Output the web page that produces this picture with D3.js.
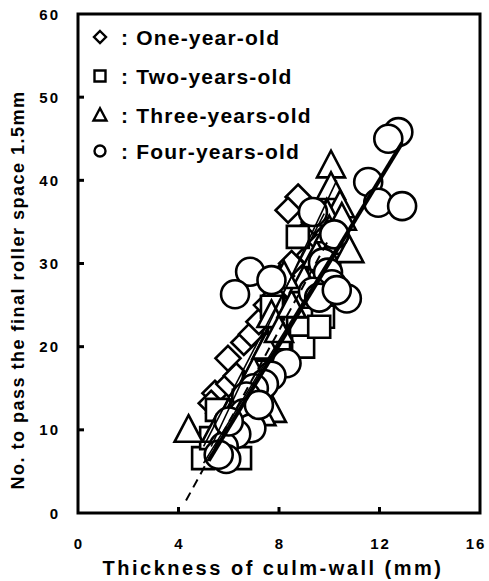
<!DOCTYPE html>
<html>
<head>
<meta charset="utf-8">
<script src="https://cdn.jsdelivr.net/npm/d3@7"></script>
<style>
  body { margin: 0; background: #fff; }
  text { font-family: "Liberation Sans", Arial, sans-serif; font-weight: bold; fill: #000; }
</style>
</head>
<body>
<div id="chart"></div>
<script>
// Width and height of the SVG
const width = 489;
const height = 581;

// data (x: culm-wall thickness mm, y: number of passes)
const oneYear = [
  [8.76, 38.0], [8.36, 36.4], [5.97, 18.6], [5.45, 14.4], [5.3, 13.2], [5.6, 12.0],
  [6.0, 15.5], [6.3, 16.5], [6.6, 20.5], [6.9, 21.5], [7.2, 23.0], [7.5, 25.0],
  [7.8, 26.0], [8.1, 28.5], [8.5, 30.0], [9.0, 33.5], [9.4, 35.0], [5.8, 10.5],
  [6.2, 12.5], [9.2, 31.0]
];
const twoYears = [
  [8.75, 33.2], [7.76, 24.6], [8.76, 22.2], [8.3, 19.3], [8.96, 20.0], [9.75, 23.6],
  [9.6, 22.4], [7.72, 24.8], [4.98, 6.6], [6.45, 6.6], [5.53, 12.4], [5.3, 9.0],
  [5.8, 8.0], [6.2, 11.0], [6.6, 13.5], [7.0, 15.5], [7.4, 17.0], [8.0, 21.0],
  [9.0, 26.0], [9.6, 28.0], [10.0, 30.0], [10.3, 32.5]
];
const threeYears = [
  [10.07, 41.8], [10.07, 39.2], [10.43, 37.0], [9.9, 36.0], [10.8, 31.6], [7.7, 23.8],
  [4.4, 10.0], [7.72, 12.4], [7.3, 12.0], [5.5, 10.0], [6.0, 12.0], [6.5, 14.0],
  [7.0, 17.0], [7.5, 20.0], [8.0, 22.0], [8.5, 25.0], [9.0, 28.0], [9.5, 31.0],
  [10.0, 34.0], [10.5, 35.5], [8.2, 28.5]
];
const fourYears = [
  [12.75, 45.8], [12.35, 45.0], [11.55, 39.8], [11.95, 37.3], [12.9, 36.9], [9.35, 36.2],
  [6.85, 29.0], [7.7, 28.0], [6.25, 26.3], [10.2, 33.5], [9.75, 30.1], [9.95, 28.9],
  [10.1, 27.5], [9.35, 26.6], [9.6, 25.9], [10.7, 25.8], [10.3, 26.8], [8.3, 18.0],
  [7.7, 16.5], [7.4, 15.5], [7.0, 15.0], [6.7, 14.0], [6.6, 12.0], [6.9, 10.2],
  [6.3, 9.5], [5.8, 8.0], [5.9, 6.5], [5.6, 7.0], [6.0, 11.0], [7.2, 13.0]
];

// regression lines (start and end points)
const fitAll = [[5.2, 6.3], [12.9, 44.5]];
const fitDashed = [[4.3, 1.5], [10.0, 33.0]];
const fitThin = [
  [[5.3, 8.0], [10.3, 40.0]],
  [[5.0, 8.0], [9.8, 36.0]],
  [[5.0, 6.0], [10.3, 32.0]]
];

const xTicks = [0, 4, 8, 12, 16];
const yTicks = [0, 10, 20, 30, 40, 50, 60];
const legendLabels = [": One-year-old", ": Two-years-old", ": Three-years-old", ": Four-years-old"];

const svg = d3.select("#chart")
    .append("svg")
    .attr("width", width)
    .attr("height", height);

const plotLeft = 78, plotRight = 480, plotTop = 14, plotBottom = 513;

const x = d3.scaleLinear().domain([0, 16]).range([plotLeft, plotRight]);
const y = d3.scaleLinear().domain([0, 60]).range([plotBottom, plotTop]);

// marker shapes
function diamond(cx, cy, r) {
    return `M${cx},${cy - r}L${cx + r},${cy}L${cx},${cy + r}L${cx - r},${cy}Z`;
}
function square(cx, cy, r) {
    return `M${cx - r},${cy - r}H${cx + r}V${cy + r}H${cx - r}Z`;
}
function triangle(cx, cy, r) {
    const h = r * 1.9;
    return `M${cx},${cy - h * 0.55}L${cx + r},${cy + h * 0.45}L${cx - r},${cy + h * 0.45}Z`;
}
function circle(cx, cy, r) {
    return `M${cx - r},${cy}A${r},${r} 0 1,0 ${cx + r},${cy}A${r},${r} 0 1,0 ${cx - r},${cy}Z`;
}

const groups = [
    { data: oneYear, shape: diamond, r: 12.5, lr: 6 },
    { data: twoYears, shape: square, r: 11, lr: 5.5 },
    { data: threeYears, shape: triangle, r: 14, lr: 6.5 },
    { data: fourYears, shape: circle, r: 14, lr: 5.5 }
];

groups.forEach(g => {
    svg.append("g").selectAll("path")
        .data(g.data)
        .enter().append("path")
        .attr("d", d => g.shape(x(d[0]), y(d[1]), g.r))
        .attr("fill", "#fff")
        .attr("stroke", "#000")
        .attr("stroke-width", 2.6);
});

// fit lines
const line = d3.line().x(d => x(d[0])).y(d => y(d[1]));
fitThin.forEach(f => {
    svg.append("path").attr("d", line(f))
        .attr("stroke", "#000").attr("stroke-width", 1.6).attr("fill", "none");
});
svg.append("path").attr("d", line(fitDashed))
    .attr("stroke", "#000").attr("stroke-width", 2).attr("fill", "none")
    .attr("stroke-dasharray", "9,6");
svg.append("path").attr("d", line(fitAll))
    .attr("stroke", "#000").attr("stroke-width", 4).attr("fill", "none");

// frame
svg.append("rect")
    .attr("x", plotLeft).attr("y", plotTop)
    .attr("width", plotRight - plotLeft).attr("height", plotBottom - plotTop)
    .attr("fill", "none").attr("stroke", "#000").attr("stroke-width", 3);

// ticks (inward)
svg.append("g").selectAll("line")
    .data(yTicks.slice(1, -1))
    .enter().append("line")
    .attr("x1", plotLeft).attr("x2", plotLeft + 6)
    .attr("y1", d => y(d)).attr("y2", d => y(d))
    .attr("stroke", "#000").attr("stroke-width", 3);
svg.append("g").selectAll("line")
    .data(xTicks.slice(1, -1))
    .enter().append("line")
    .attr("x1", d => x(d)).attr("x2", d => x(d))
    .attr("y1", plotBottom).attr("y2", plotBottom - 6)
    .attr("stroke", "#000").attr("stroke-width", 3);

// tick labels
svg.append("g").selectAll("text")
    .data(yTicks)
    .enter().append("text")
    .attr("x", 60).attr("y", d => y(d) + 5.5)
    .attr("text-anchor", "end")
    .style("font-size", "15px").style("letter-spacing", "2px")
    .text(d => d);
svg.append("g").selectAll("text")
    .data(xTicks)
    .enter().append("text")
    .attr("x", d => Math.min(x(d) + 1, 476)).attr("y", 549)
    .attr("text-anchor", "middle")
    .style("font-size", "15px").style("letter-spacing", "2px")
    .text(d => d);

// axis titles
svg.append("text")
    .attr("x", 273).attr("y", 575)
    .attr("text-anchor", "middle")
    .style("font-size", "20px").style("letter-spacing", "2.5px")
    .text("Thickness of culm-wall (mm)");
svg.append("text")
    .attr("transform", "translate(24,290) rotate(-90)")
    .attr("text-anchor", "middle")
    .style("font-size", "18px").style("letter-spacing", "1.5px")
    .text("No. to pass the final roller space 1.5mm");

// legend
const legendY = [37, 76, 115, 151];
const legend = svg.append("g");
groups.forEach((g, i) => {
    legend.append("path")
        .attr("d", g.shape(100, legendY[i], g.lr))
        .attr("fill", "#fff").attr("stroke", "#000").attr("stroke-width", 2.4);
    legend.append("text")
        .attr("x", 121).attr("y", legendY[i] + 7.5)
        .style("font-size", "21px").style("letter-spacing", "1.2px")
        .text(legendLabels[i]);
});
</script>
</body>
</html>
